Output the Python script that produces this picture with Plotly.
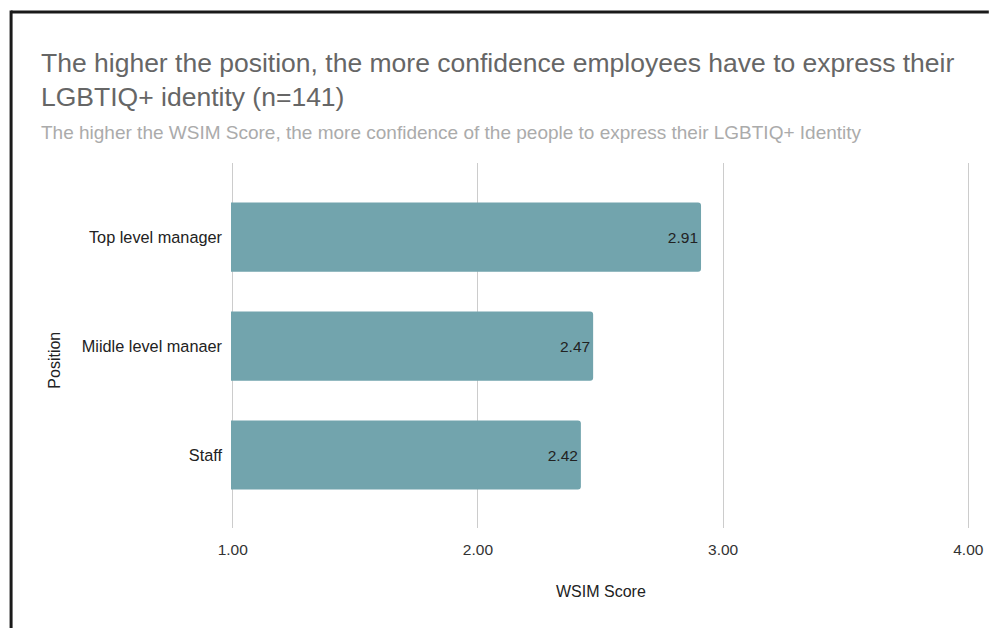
import plotly.graph_objects as go

# Data
positions = ["Top level manager", "Miidle level manaer", "Staff"]
wsim_scores = [2.91, 2.47, 2.42]
x_ticks = [1, 2, 3, 4]
x_tick_labels = ["1.00", "2.00", "3.00", "4.00"]

title_text = ("The higher the position, the more confidence employees have to express their"
              "<br>LGBTIQ+ identity (n=141)")
subtitle_text = ("The higher the WSIM Score, the more confidence of the people to express "
                 "their LGBTIQ+ Identity")

W, H = 996, 628
L, R, T, B = 231, 19, 163, 100
plot_w = W - L - R
plot_h = H - T - B


def px_to_paper_x(px):
    return (px - L) / plot_w


def px_to_paper_y(py):
    return (H - B - py) / plot_h


FONT = "Liberation Sans, Arial, sans-serif"

fig = go.Figure(
    go.Bar(
        x=wsim_scores,
        y=positions,
        orientation="h",
        width=0.635,
        marker=dict(color="#72a4ad", cornerradius=3, line=dict(width=0)),
        text=[f"{v:.2f}" for v in wsim_scores],
        textposition="inside",
        insidetextanchor="end",
        textfont=dict(family=FONT, size=15.5, color="#222222"),
        cliponaxis=True,
        hoverinfo="skip",
    )
)

fig.update_layout(
    width=W,
    height=H,
    margin=dict(l=L, r=R, t=T, b=B),
    paper_bgcolor="white",
    plot_bgcolor="white",
    showlegend=False,
    font=dict(family=FONT, color="#222222"),
    xaxis=dict(
        range=[0.993, 4.007],
        tickvals=x_ticks,
        ticktext=x_tick_labels,
        showgrid=True,
        gridcolor="#cccccc",
        gridwidth=1,
        zeroline=False,
        showline=False,
        ticks="",
        tickfont=dict(family=FONT, size=15.5, color="#333333"),
        ticklabelstandoff=10,
        fixedrange=True,
    ),
    yaxis=dict(
        categoryorder="array",
        categoryarray=positions,
        range=[2.67, -0.68],
        showgrid=False,
        zeroline=False,
        showline=False,
        ticks="",
        tickfont=dict(family=FONT, size=16.3, color="#222222"),
        ticklabelstandoff=8,
        fixedrange=True,
    ),
)

annotations = [
    dict(
        text=title_text,
        xref="paper", yref="paper",
        x=px_to_paper_x(37), y=px_to_paper_y(80),
        xanchor="left", yanchor="middle", align="left",
        showarrow=False,
        font=dict(family=FONT, size=26.5, color="#666666"),
    ),
    dict(
        text=subtitle_text,
        xref="paper", yref="paper",
        x=px_to_paper_x(37), y=px_to_paper_y(133),
        xanchor="left", yanchor="middle",
        showarrow=False,
        font=dict(family=FONT, size=19, color="#ababab"),
    ),
    dict(
        text="Position",
        xref="paper", yref="paper",
        x=px_to_paper_x(52), y=px_to_paper_y(360),
        xanchor="center", yanchor="middle",
        textangle=-90,
        showarrow=False,
        font=dict(family=FONT, size=16, color="#222222"),
    ),
    dict(
        text="WSIM Score",
        xref="paper", yref="paper",
        x=px_to_paper_x(604), y=px_to_paper_y(591),
        xanchor="center", yanchor="middle",
        showarrow=False,
        font=dict(family=FONT, size=16, color="#222222"),
    ),
]
fig.update_layout(annotations=annotations)

# Dark frame along the top and left edges, kept inside the figure bounds
frame_top = 12
frame_left = 9
fig.add_shape(
    type="line", xref="paper", yref="paper",
    x0=px_to_paper_x(frame_left), x1=px_to_paper_x(W),
    y0=px_to_paper_y(frame_top), y1=px_to_paper_y(frame_top),
    line=dict(color="#1a1a1a", width=3),
)
fig.add_shape(
    type="line", xref="paper", yref="paper",
    x0=px_to_paper_x(frame_left), x1=px_to_paper_x(frame_left),
    y0=px_to_paper_y(frame_top - 1.5), y1=px_to_paper_y(H),
    line=dict(color="#1a1a1a", width=3),
)

# Pin the figure to the page corner without scrollbars
page_css = (
    "document.documentElement.style.margin='0';"
    "document.documentElement.style.overflow='hidden';"
    "document.body.style.margin='0';"
    "document.body.style.overflow='hidden';"
)

fig.write_html("out.html", config={"displayModeBar": False}, post_script=page_css)
